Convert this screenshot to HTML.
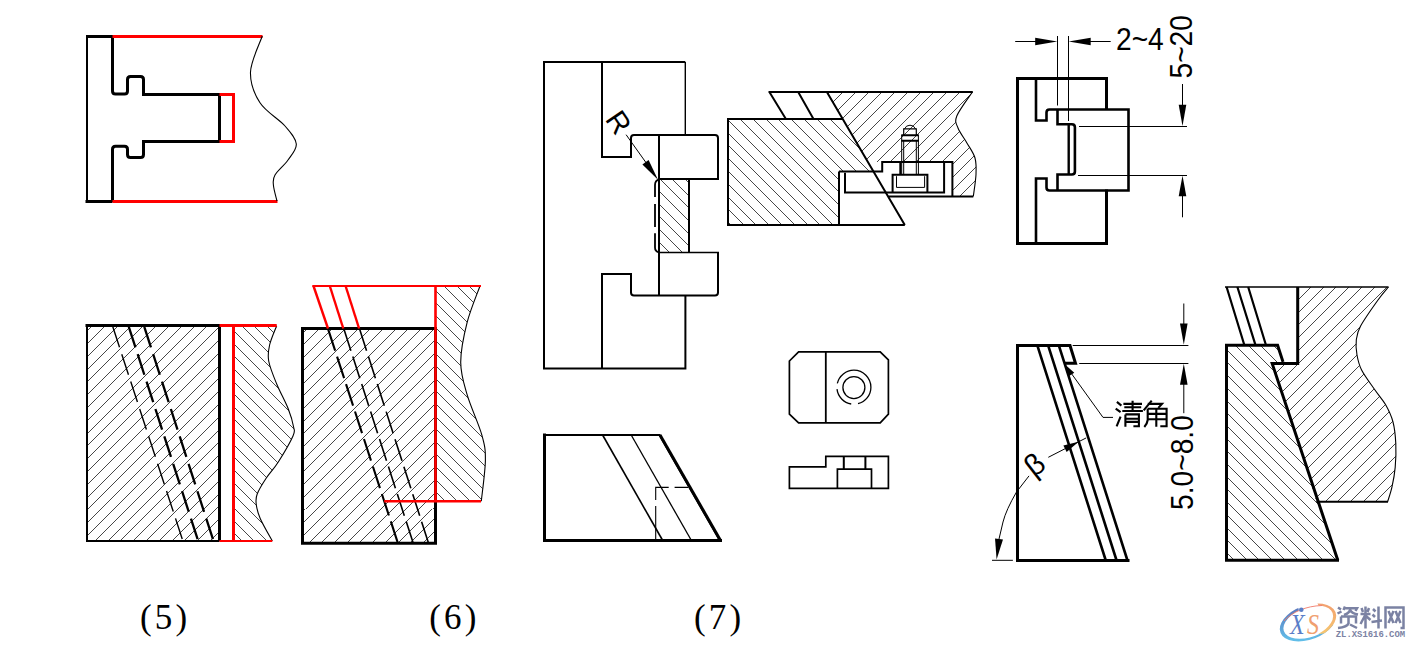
<!DOCTYPE html>
<html><head><meta charset="utf-8"><style>
html,body{margin:0;padding:0;background:#fff;width:1413px;height:647px;overflow:hidden}
svg{display:block}
</style></head><body>
<svg width="1413" height="647" viewBox="0 0 1413 647">
<rect width="1413" height="647" fill="#fff"/>
<path d="M86,36.5 H112.5 M85.5,201.5 H112.5" stroke="#000" stroke-width="3" fill="none" />
<path d="M87,35 V203" stroke="#000" stroke-width="2" fill="none" />
<path d="M112.5,35 V91 Q112.5,94 115.5,94 H124.5 Q127.5,94 127.5,91 V79.5 Q127.5,76.5 130.5,76.5 H140.5 Q143.5,76.5 143.5,79.5 V94.5 H219.5 V141.5 H143.5 V154.5 Q143.5,157.5 140.5,157.5 H130.5 Q127.5,157.5 127.5,154.5 V149.3 Q127.5,146.3 124.5,146.3 H115.5 Q112.5,146.3 112.5,149.3 V202" stroke="#000" stroke-width="3" fill="none" />
<path d="M112.5,36.5 H262.5 M112.5,201.5 H277.5 M219.5,94.5 H233.5 V141.5 H219.5" stroke="#ff0000" stroke-width="3" fill="none" />
<path d="M262.3,36 C260.33,42 250.88,60.87 250.5,72 C250.12,83.13 254.25,93.8 260,102.8 C265.75,111.8 278.95,119.13 285,126 C291.05,132.87 295.8,138.33 296.3,144 C296.8,149.67 291.55,154.83 288,160 C284.45,165.17 277.43,170.83 275,175 C272.57,179.17 273.07,180.63 273.4,185 C273.73,189.37 276.4,198.5 277,201.2" stroke="#000" stroke-width="1.1" fill="none" />
<clipPath id="c1"><path d="M87,325.5 L219.5,325.5 L219.5,541 L87,541 Z"/></clipPath>
<path clip-path="url(#c1)" d="M-153.4,546L73.6,319M-140.6,546L86.4,319M-127.8,546L99.2,319M-115,546L112,319M-102.2,546L124.8,319M-89.4,546L137.6,319M-76.6,546L150.4,319M-63.8,546L163.2,319M-51,546L176,319M-38.2,546L188.8,319M-25.4,546L201.6,319M-12.6,546L214.4,319M0.2,546L227.2,319M13,546L240,319M25.8,546L252.8,319M38.6,546L265.6,319M51.4,546L278.4,319M64.2,546L291.2,319M77,546L304,319M89.8,546L316.8,319M102.6,546L329.6,319M115.4,546L342.4,319M128.2,546L355.2,319M141,546L368,319M153.8,546L380.8,319M166.6,546L393.6,319M179.4,546L406.4,319M192.2,546L419.2,319M205,546L432,319M217.8,546L444.8,319" stroke="#000" stroke-width="0.72" fill="none" shape-rendering="crispEdges"/>
<path d="M112.8,326.8 L182.9,541" stroke="#000" stroke-width="1.4" fill="none" stroke-dasharray="21.6 7.2"/>
<path d="M128.8,326.8 L198.2,541" stroke="#000" stroke-width="2.3" fill="none" stroke-dasharray="21.6 7.2"/>
<path d="M144.3,326.8 L213.5,541" stroke="#000" stroke-width="2.3" fill="none" stroke-dasharray="21.6 7.2"/>
<path d="M85.5,325.5 H221 M219.5,325.5 V541" stroke="#000" stroke-width="3" fill="none" />
<path d="M87,324 V542" stroke="#000" stroke-width="2" fill="none" />
<path d="M86,541 H219.5" stroke="#000" stroke-width="2" fill="none" />
<clipPath id="c2"><path d="M233.5,325.5 L276.7,325.5 C275.52,328.92 270.93,339.12 269.6,345 C268.27,350.88 267.52,354.5 268.7,361 C269.88,367.5 273.43,376 276.7,384 C279.97,392 285.48,401.83 288.3,409 C291.12,416.17 292.82,422.5 293.6,427 C294.38,431.5 295.55,430.17 293,436 C290.45,441.83 282.75,455 278.3,462 C273.85,469 269.82,472.67 266.3,478 C262.78,483.33 258.88,489.67 257.2,494 C255.52,498.33 255.7,499.92 256.2,504 C256.7,508.08 257.52,512.33 260.2,518.5 C262.88,524.67 270.28,537.25 272.3,541 L233.5,541 Z"/></clipPath>
<path clip-path="url(#c2)" d="M-5.6,319L221.4,546M7.05,319L234.05,546M19.7,319L246.7,546M32.35,319L259.35,546M45,319L272,546M57.65,319L284.65,546M70.3,319L297.3,546M82.95,319L309.95,546M95.6,319L322.6,546M108.25,319L335.25,546M120.9,319L347.9,546M133.55,319L360.55,546M146.2,319L373.2,546M158.85,319L385.85,546M171.5,319L398.5,546M184.15,319L411.15,546M196.8,319L423.8,546M209.45,319L436.45,546M222.1,319L449.1,546M234.75,319L461.75,546M247.4,319L474.4,546M260.05,319L487.05,546M272.7,319L499.7,546M285.35,319L512.35,546M298,319L525,546" stroke="#000" stroke-width="0.72" fill="none" shape-rendering="crispEdges"/>
<path d="M276.7,325.7 C275.52,328.92 270.93,339.12 269.6,345 C268.27,350.88 267.52,354.5 268.7,361 C269.88,367.5 273.43,376 276.7,384 C279.97,392 285.48,401.83 288.3,409 C291.12,416.17 292.82,422.5 293.6,427 C294.38,431.5 295.55,430.17 293,436 C290.45,441.83 282.75,455 278.3,462 C273.85,469 269.82,472.67 266.3,478 C262.78,483.33 258.88,489.67 257.2,494 C255.52,498.33 255.7,499.92 256.2,504 C256.7,508.08 257.52,512.33 260.2,518.5 C262.88,524.67 270.28,537.25 272.3,541" stroke="#000" stroke-width="1.1" fill="none" />
<path d="M219.5,325.5 H276.7 M233.5,325.5 V541" stroke="#ff0000" stroke-width="3" fill="none" />
<path d="M219.5,541 H272.3" stroke="#ff0000" stroke-width="2" fill="none" />
<clipPath id="c3"><path d="M302.5,328.5 L435.5,328.5 L435.5,543.2 L302.5,543.2 Z"/></clipPath>
<path clip-path="url(#c3)" d="M61.3,549L291.3,319M74,549L304,319M86.7,549L316.7,319M99.4,549L329.4,319M112.1,549L342.1,319M124.8,549L354.8,319M137.5,549L367.5,319M150.2,549L380.2,319M162.9,549L392.9,319M175.6,549L405.6,319M188.3,549L418.3,319M201,549L431,319M213.7,549L443.7,319M226.4,549L456.4,319M239.1,549L469.1,319M251.8,549L481.8,319M264.5,549L494.5,319M277.2,549L507.2,319M289.9,549L519.9,319M302.6,549L532.6,319M315.3,549L545.3,319M328,549L558,319M340.7,549L570.7,319M353.4,549L583.4,319M366.1,549L596.1,319M378.8,549L608.8,319M391.5,549L621.5,319M404.2,549L634.2,319M416.9,549L646.9,319M429.6,549L659.6,319" stroke="#000" stroke-width="0.72" fill="none" shape-rendering="crispEdges"/>
<path d="M328.1,329.1 L397.8,542.8" stroke="#000" stroke-width="2.1" fill="none" stroke-dasharray="22.7 6.2"/>
<path d="M343.9,329.1 L413.1,542.8" stroke="#000" stroke-width="1.6" fill="none" stroke-dasharray="22.7 6.2"/>
<path d="M359.6,329.1 L428.4,542.8" stroke="#000" stroke-width="1.6" fill="none" stroke-dasharray="22.7 6.2"/>
<path d="M301,328.5 H437 M302.5,327 V544.7 M301,543.2 H437 M435.5,327 V544.7" stroke="#000" stroke-width="3" fill="none" />
<clipPath id="c4"><path d="M435.5,286 L480,286 C477.87,292.03 470.42,309.5 467.2,322.2 C463.98,334.9 460.7,350.08 460.7,362.2 C460.7,374.32 463.68,382.8 467.2,394.9 C470.72,407 478.77,423.95 481.8,434.8 C484.83,445.65 485.48,448.93 485.4,460 C485.32,471.07 481.98,494.33 481.3,501.2 L435.5,501.2 Z"/></clipPath>
<path clip-path="url(#c4)" d="M197.7,279L424.7,506M210.3,279L437.3,506M222.9,279L449.9,506M235.5,279L462.5,506M248.1,279L475.1,506M260.7,279L487.7,506M273.3,279L500.3,506M285.9,279L512.9,506M298.5,279L525.5,506M311.1,279L538.1,506M323.7,279L550.7,506M336.3,279L563.3,506M348.9,279L575.9,506M361.5,279L588.5,506M374.1,279L601.1,506M386.7,279L613.7,506M399.3,279L626.3,506M411.9,279L638.9,506M424.5,279L651.5,506M437.1,279L664.1,506M449.7,279L676.7,506M462.3,279L689.3,506M474.9,279L701.9,506M487.5,279L714.5,506" stroke="#000" stroke-width="0.72" fill="none" shape-rendering="crispEdges"/>
<path d="M480,286 C477.87,292.03 470.42,309.5 467.2,322.2 C463.98,334.9 460.7,350.08 460.7,362.2 C460.7,374.32 463.68,382.8 467.2,394.9 C470.72,407 478.77,423.95 481.8,434.8 C484.83,445.65 485.48,448.93 485.4,460 C485.32,471.07 481.98,494.33 481.3,501.2" stroke="#000" stroke-width="1.1" fill="none" />
<path d="M312.3,286 H481" stroke="#ff0000" stroke-width="2.2" fill="none" />
<path d="M435.5,286 V501.2 M384.2,501.2 H481" stroke="#ff0000" stroke-width="2.6" fill="none" />
<path d="M313.5,286 L328,328.5" stroke="#ff0000" stroke-width="2.4" fill="none" />
<path d="M329.8,286 L343.3,328.5" stroke="#ff0000" stroke-width="2.4" fill="none" />
<path d="M345.6,286 L359.1,328.5" stroke="#ff0000" stroke-width="2.4" fill="none" />
<clipPath id="c5"><path d="M659,179 L689,179 L689,252.3 L659,252.3 Z"/></clipPath>
<path clip-path="url(#c5)" d="M566.3,174L649.3,257M578.9,174L661.9,257M591.5,174L674.5,257M604.1,174L687.1,257M616.7,174L699.7,257M629.3,174L712.3,257M641.9,174L724.9,257M654.5,174L737.5,257M667.1,174L750.1,257M679.7,174L762.7,257" stroke="#000" stroke-width="0.72" fill="none" shape-rendering="crispEdges"/>
<path d="M543,62 H685.3" stroke="#000" stroke-width="2" fill="none" />
<path d="M685.3,62 V135" stroke="#000" stroke-width="1.4" fill="none" />
<path d="M544,61 V369.5 M543,368.6 H686.4 M685.4,368.6 V295.6" stroke="#000" stroke-width="2" fill="none" />
<path d="M602,62 V157 H631 V138 Q631,135 634,135 H715 Q718,135 718,138 V179 H659" stroke="#000" stroke-width="2" fill="none" />
<path d="M659,135 V295.6 M689,179 V252.3 M718,252.5 V292.6 Q718,295.6 715,295.6 H634 Q631,295.6 631,292.6 V274 H602 V368.6" stroke="#000" stroke-width="2" fill="none" />
<path d="M659,252.5 H719" stroke="#000" stroke-width="1.5" fill="none" />
<path d="M659,179.3 Q655,180.5 655,185 V197 M655,204 V227 M655,233.3 V247.5 Q655,251.5 659,252.3" stroke="#000" stroke-width="1.8" fill="none" />
<path d="M626.1,134.7 L647,164" stroke="#000" stroke-width="1.0" fill="none" />
<path d="M658,179.7 L642.41,164.52 L648.59,160.08 Z" fill="#000"/>
<text x="0" y="0" transform="translate(604.5,119.2) rotate(56)" font-family="'Liberation Sans', sans-serif" font-size="29" fill="#000">R</text>
<clipPath id="c6"><path d="M728,119 L842.8,118.8 L873.4,171.4 L839,171.4 L839,225 L728,225 Z"/></clipPath>
<path clip-path="url(#c6)" d="M589.2,109L711.2,231M602,109L724,231M614.8,109L736.8,231M627.6,109L749.6,231M640.4,109L762.4,231M653.2,109L775.2,231M666,109L788,231M678.8,109L800.8,231M691.6,109L813.6,231M704.4,109L826.4,231M717.2,109L839.2,231M730,109L852,231M742.8,109L864.8,231M755.6,109L877.6,231M768.4,109L890.4,231M781.2,109L903.2,231M794,109L916,231M806.8,109L928.8,231M819.6,109L941.6,231M832.4,109L954.4,231M845.2,109L967.2,231M858,109L980,231M870.8,109L992.8,231" stroke="#000" stroke-width="0.72" fill="none" shape-rendering="crispEdges"/>
<clipPath id="c7"><path d="M826.9,92 L972.4,92 C969.8,96 959.2,110 956.8,116 C954.4,122 956.27,123.43 958,128 C959.73,132.57 964.37,138.4 967.2,143.4 C970.03,148.4 973.53,152.82 975,158 C976.47,163.18 976.28,168.1 976,174.5 C975.72,180.9 973.75,192.75 973.3,196.4 L952.4,196.4 L952.4,162 L867.9,162 Z"/></clipPath>
<path clip-path="url(#c7)" d="M695,201L812,84M708,201L825,84M721,201L838,84M734,201L851,84M747,201L864,84M760,201L877,84M773,201L890,84M786,201L903,84M799,201L916,84M812,201L929,84M825,201L942,84M838,201L955,84M851,201L968,84M864,201L981,84M877,201L994,84M890,201L1007,84M903,201L1020,84M916,201L1033,84M929,201L1046,84M942,201L1059,84M955,201L1072,84M968,201L1085,84" stroke="#000" stroke-width="0.72" fill="none" shape-rendering="crispEdges"/>
<path d="M972.4,92 C969.8,96 959.2,110 956.8,116 C954.4,122 956.27,123.43 958,128 C959.73,132.57 964.37,138.4 967.2,143.4 C970.03,148.4 973.53,152.82 975,158 C976.47,163.18 976.28,168.1 976,174.5 C975.72,180.9 973.75,192.75 973.3,196.4" stroke="#000" stroke-width="1.1" fill="none" />
<path d="M768.5,92 H972.8 M769.4,92 L785.9,119 M798.2,92 L813.5,119 M826.9,92 L904.8,225" stroke="#000" stroke-width="2" fill="none" />
<path d="M727,119 H842.9 M728,118 V226 M727,225 H904.8 M839,171.4 V225" stroke="#000" stroke-width="2" fill="none" />
<path d="M839,171.4 H882.2 V162 H952.4 V196.4 M888.4,196.4 H973.3" stroke="#000" stroke-width="2" fill="none" />
<path d="M845,172.7 V192.6 H944.1 V162" stroke="#000" stroke-width="2" fill="none" />
<path d="M892.6,192.2 V174.8 H927.4 V192.2" stroke="#000" stroke-width="2" fill="none" />
<path d="M896.5,176.2 V187.4 H924.6 V176.2" stroke="#000" stroke-width="1.0" fill="none" />
<path d="M901.7,135.2 V174.8 M918.4,135.2 V174.8" stroke="#000" stroke-width="1.0" fill="none" />
<path d="M903.7,140.7 V174.8 M916.3,140.7 V174.8" stroke="#000" stroke-width="1.0" fill="none" />
<path d="M900.3,162 V174.8" stroke="#000" stroke-width="2" fill="none" />
<path d="M901.3,135.2 H918.8 M901.3,140.7 H918.8" stroke="#000" stroke-width="2" fill="none" />
<path d="M903.7,135.2 V128.9 H916.3 V135.2" stroke="#000" stroke-width="1.2" fill="none" />
<path d="M904.5,128.9 Q906,125.2 910,125.2 Q914,125.2 915.5,128.9" stroke="#000" stroke-width="1.0" fill="none" />
<path d="M798.6,351.9 L880.2,351.9 L888.4,359.8 L888.4,414.2 L880.2,422.9 L798.6,422.9 L789.4,414.2 L789.4,361 Z" stroke="#000" stroke-width="1.7" fill="none" />
<path d="M825.8,351.9 V422.9" stroke="#000" stroke-width="1.8" fill="none" />
<circle cx="853.9" cy="387.2" r="17" stroke="#000" stroke-width="1.3" fill="none" stroke-dasharray="22.3 7 21.7 6 49.8"/>
<circle cx="853.9" cy="387.6" r="11" stroke="#000" stroke-width="1.3" fill="none"/>
<path d="M789.4,466.9 H825.8 V456.3 H888.4 V488.4 H789.4 Z" stroke="#000" stroke-width="1.7" fill="none" />
<path d="M837.4,488.4 V469.1 H871.5 V488.4" stroke="#000" stroke-width="1.7" fill="none" />
<path d="M843.8,456.3 V469.1 M865.4,456.3 V469.1" stroke="#000" stroke-width="2.0" fill="none" />
<path d="M543,435 H659.6 L720,540.5" stroke="#000" stroke-width="2.2" fill="none" />
<path d="M660,435 L720.5,540.5" stroke="#000" stroke-width="3" fill="none" />
<path d="M543,540.5 H722" stroke="#000" stroke-width="3" fill="none" />
<path d="M544.5,433.5 V542" stroke="#000" stroke-width="3" fill="none" />
<path d="M602.6,435 L662.7,540.5" stroke="#000" stroke-width="1.6" fill="none" />
<path d="M631.2,435 L691.4,540.5" stroke="#000" stroke-width="1.3" fill="none" />
<path d="M655.7,500 V487.4 H668.7 M674.6,487.4 H688 M655.7,506 V540" stroke="#000" stroke-width="1.1" fill="none" />
<path d="M1106.5,110 V78.5 H1017.5 V243.5 H1106.5 V189.5" stroke="#000" stroke-width="3" fill="none" />
<path d="M1036,78.5 V120.5 H1046.5 V112.5 Q1046.5,109.5 1049.5,109.5 H1128.5 V190.5 H1049.5 Q1046.5,190.5 1046.5,187.5 V178.5 H1036 V243.5" stroke="#000" stroke-width="2.6" fill="none" />
<path d="M1057.5,109.5 V124.2 H1071.9 Q1074.9,124.2 1074.9,127.2 V171.5 Q1074.9,174.5 1071.9,174.5 H1057.5 V190.5" stroke="#000" stroke-width="2.6" fill="none" />
<path d="M1068.7,124.2 V174.5" stroke="#000" stroke-width="2.4" fill="none" />
<path d="M1057.5,36 V105.5 M1068.5,36 V121 M1015.2,41.5 H1040 M1086,41.5 H1110.7" stroke="#000" stroke-width="1.0" fill="none" />
<path d="M1057.3,41.5 L1035.2,45.3 L1035.2,37.7 Z" fill="#000"/>
<path d="M1068.6,41.5 L1090.7,37.7 L1090.7,45.3 Z" fill="#000"/>
<text transform="translate(1116,50) scale(0.88,1)" font-family="'Liberation Sans', sans-serif" font-size="32" fill="#000">2~4</text>
<path d="M1079,126.5 H1187 M1078,175.5 H1187 M1182.5,84 V110 M1182.5,190 V217.3" stroke="#000" stroke-width="1.0" fill="none" />
<path d="M1182.5,125.9 L1178.7,104.8 L1186.3,104.8 Z" fill="#000"/>
<path d="M1182.5,175.5 L1186.3,196.3 L1178.7,196.3 Z" fill="#000"/>
<text transform="translate(1192,78.5) rotate(-90) scale(0.88,1)" font-family="'Liberation Sans', sans-serif" font-size="32" fill="#000">5~20</text>
<path d="M1017.5,344 V562 M1016,560.5 H1129.5 M1016,345.5 H1070 L1075.5,363.2 H1064.3" stroke="#000" stroke-width="3" fill="none" />
<path d="M1037.4,345.6 L1105.8,560.5 M1048.2,345.6 L1116.6,560.5 M1058.9,345.6 L1127.5,560.5" stroke="#000" stroke-width="2.6" fill="none" />
<path d="M1072.7,345.5 H1188.4 M1079.2,363.5 H1188.4" stroke="#000" stroke-width="1.0" fill="none" />
<path d="M1183.8,303.5 V330 M1183.8,384 V413.2" stroke="#000" stroke-width="1.0" fill="none" />
<path d="M1183.8,344.7 L1180,323.6 L1187.6,323.6 Z" fill="#000"/>
<path d="M1183.8,363.7 L1187.6,384.7 L1180,384.7 Z" fill="#000"/>
<text transform="translate(1193,509.9) rotate(-90) scale(0.88,1)" font-family="'Liberation Sans', sans-serif" font-size="32" fill="#000">5.0~8.0</text>
<path d="M1113,417.4 H1103 L1066,366" stroke="#000" stroke-width="1.0" fill="none" />
<path d="M1064.5,364 L1074.25,372.67 L1068.75,376.33 Z" fill="#000"/>
<path d="M1048.3,457.3 L1086.2,437.9" stroke="#000" stroke-width="1.0" fill="none" />
<path d="M1078.6,441.8 L1066.65,452 L1063.35,445.6 Z" fill="#000"/>
<path d="M992,560.3 H1012.9" stroke="#000" stroke-width="1.0" fill="none" />
<path d="M1029,475.9 L1016.5,492 Q1006,510 1003,522 L999,539" stroke="#000" stroke-width="1.0" fill="none" />
<path d="M996.6,559.6 L995.03,538.54 L1002.97,539.46 Z" fill="#000"/>
<text transform="translate(1033.9,478) rotate(-38)" font-family="'Liberation Sans', sans-serif" font-size="30" fill="#000">β</text>
<path d="M1116.9,401.9 L1121.4,405.6 M1115.7,408.7 L1120.6,412.2 M1116.6,426.4 L1120.6,416.7" stroke="#000" stroke-width="2.1" fill="none" />
<path d="M1123.4,403.9 H1142 M1124.3,407.3 H1141.2 M1122.3,411 H1142.9 M1132.6,400.7 V411" stroke="#000" stroke-width="2.1" fill="none" />
<path d="M1125.4,414.4 V426.7 M1125.4,414.4 H1138.9 V426.2 H1133.4 M1125.4,418.7 H1138.9 M1125.4,421.9 H1138.9" stroke="#000" stroke-width="2.1" fill="none" />
<path d="M1151.7,400.7 L1143.7,410.4 M1147.7,403.9 H1162 L1158.3,407.9" stroke="#000" stroke-width="2.1" fill="none" />
<path d="M1147.7,408.7 V420 Q1147.2,424 1144.3,427 M1147.7,408.7 H1166.6 V426.2 H1160.3 M1147.7,413.9 H1166.6 M1147.7,419.3 H1166.6 M1156.3,408.7 V426.7" stroke="#000" stroke-width="2.1" fill="none" />
<clipPath id="c8"><path d="M1226.5,345.2 L1277.6,345.2 L1283,361.9 L1272.9,363.6 L1338,560.3 L1226.5,560.3 Z"/></clipPath>
<path clip-path="url(#c8)" d="M987.7,339L1212.7,564M1000.4,339L1225.4,564M1013.1,339L1238.1,564M1025.8,339L1250.8,564M1038.5,339L1263.5,564M1051.2,339L1276.2,564M1063.9,339L1288.9,564M1076.6,339L1301.6,564M1089.3,339L1314.3,564M1102,339L1327,564M1114.7,339L1339.7,564M1127.4,339L1352.4,564M1140.1,339L1365.1,564M1152.8,339L1377.8,564M1165.5,339L1390.5,564M1178.2,339L1403.2,564M1190.9,339L1415.9,564M1203.6,339L1428.6,564M1216.3,339L1441.3,564M1229,339L1454,564M1241.7,339L1466.7,564M1254.4,339L1479.4,564M1267.1,339L1492.1,564M1279.8,339L1504.8,564M1292.5,339L1517.5,564M1305.2,339L1530.2,564M1317.9,339L1542.9,564M1330.6,339L1555.6,564" stroke="#000" stroke-width="0.72" fill="none" shape-rendering="crispEdges"/>
<clipPath id="c9"><path d="M1297.7,287 L1388.5,287 C1386.75,289.17 1382.65,293.5 1378,300 C1373.35,306.5 1364.22,319.33 1360.6,326 C1356.98,332.67 1356.9,335.17 1356.3,340 C1355.7,344.83 1356.12,350 1357,355 C1357.88,360 1358.67,364.25 1361.6,370 C1364.53,375.75 1370.62,383.73 1374.6,389.5 C1378.58,395.27 1382.43,399.18 1385.5,404.6 C1388.57,410.02 1391.28,415.5 1393,422 C1394.72,428.5 1395.43,436.03 1395.8,443.6 C1396.17,451.17 1395.83,460.18 1395.2,467.4 C1394.57,474.62 1393.27,481.17 1392,486.9 C1390.73,492.63 1388.33,499.32 1387.6,501.8 L1316.4,501.8 L1272.9,363.6 L1297.7,363.6 Z"/></clipPath>
<path clip-path="url(#c9)" d="M1028.5,506L1255.5,279M1041.2,506L1268.2,279M1053.9,506L1280.9,279M1066.6,506L1293.6,279M1079.3,506L1306.3,279M1092,506L1319,279M1104.7,506L1331.7,279M1117.4,506L1344.4,279M1130.1,506L1357.1,279M1142.8,506L1369.8,279M1155.5,506L1382.5,279M1168.2,506L1395.2,279M1180.9,506L1407.9,279M1193.6,506L1420.6,279M1206.3,506L1433.3,279M1219,506L1446,279M1231.7,506L1458.7,279M1244.4,506L1471.4,279M1257.1,506L1484.1,279M1269.8,506L1496.8,279M1282.5,506L1509.5,279M1295.2,506L1522.2,279M1307.9,506L1534.9,279M1320.6,506L1547.6,279M1333.3,506L1560.3,279M1346,506L1573,279M1358.7,506L1585.7,279M1371.4,506L1598.4,279M1384.1,506L1611.1,279M1396.8,506L1623.8,279" stroke="#000" stroke-width="0.72" fill="none" shape-rendering="crispEdges"/>
<path d="M1388.5,287 C1386.75,289.17 1382.65,293.5 1378,300 C1373.35,306.5 1364.22,319.33 1360.6,326 C1356.98,332.67 1356.9,335.17 1356.3,340 C1355.7,344.83 1356.12,350 1357,355 C1357.88,360 1358.67,364.25 1361.6,370 C1364.53,375.75 1370.62,383.73 1374.6,389.5 C1378.58,395.27 1382.43,399.18 1385.5,404.6 C1388.57,410.02 1391.28,415.5 1393,422 C1394.72,428.5 1395.43,436.03 1395.8,443.6 C1396.17,451.17 1395.83,460.18 1395.2,467.4 C1394.57,474.62 1393.27,481.17 1392,486.9 C1390.73,492.63 1388.33,499.32 1387.6,501.8" stroke="#000" stroke-width="1.1" fill="none" />
<path d="M1225,287 H1388.5" stroke="#000" stroke-width="1.6" fill="none" />
<path d="M1226.6,287 L1244.4,345.2 M1237.4,287 L1255.5,345.2 M1248.2,287 L1266,345.2" stroke="#000" stroke-width="2.2" fill="none" />
<path d="M1297.7,287 V363.6 H1272.2 L1337.8,560.3" stroke="#000" stroke-width="3" fill="none" />
<path d="M1316.4,501.8 H1388" stroke="#000" stroke-width="2" fill="none" />
<path d="M1226.5,343.7 V561.8 M1225,560.3 H1339 M1225,345.2 H1277.6 L1283,361.9" stroke="#000" stroke-width="3" fill="none" />
<text x="140" y="628.8" font-family="'Liberation Serif', serif" font-size="35" letter-spacing="3.2" fill="#000">(5)</text>
<text x="429.2" y="628.8" font-family="'Liberation Serif', serif" font-size="35" letter-spacing="3.2" fill="#000">(6)</text>
<text x="693.9" y="628.8" font-family="'Liberation Serif', serif" font-size="35" letter-spacing="3.2" fill="#000">(7)</text>
<defs><linearGradient id="gb" x1="0" y1="0" x2="0" y2="1"><stop offset="0" stop-color="#5a6fb8"/><stop offset="1" stop-color="#62c0ea"/></linearGradient><linearGradient id="go" x1="0" y1="0" x2="0" y2="1"><stop offset="0" stop-color="#f2a070"/><stop offset="1" stop-color="#f8d070"/></linearGradient></defs>
<clipPath id="wmL"><path d="M1270,600 H1296 L1300,614 L1338,626 V645 H1270 Z"/></clipPath>
<clipPath id="wmR"><path d="M1316,600 H1340 V632 L1318,634 L1324,618 Z"/></clipPath>
<path clip-path="url(#wmL)" fill-rule="evenodd" fill="url(#gb)" d="M1281.5,622.5 a26.5,15.5 -20 1,0 53,0 a26.5,15.5 -20 1,0 -53,0 Z M1285.5,621.8 a24.5,13.2 -20 1,0 49,0 a24.5,13.2 -20 1,0 -49,0 Z"/>
<path clip-path="url(#wmR)" fill-rule="evenodd" fill="url(#go)" d="M1281.5,622.5 a26.5,15.5 -20 1,0 53,0 a26.5,15.5 -20 1,0 -53,0 Z M1281,622.8 a25,13.5 -20 1,0 50,0 a25,13.5 -20 1,0 -50,0 Z"/>
<path d="M1284,621 C1292,612 1306,606 1322,605.5" stroke="#f07a6a" stroke-width="0.9" fill="none"/>
<circle cx="1301.3" cy="609.7" r="2.3" fill="#5b7fc7"/>
<text transform="translate(1290,633.7) scale(0.8,1)" font-family="'Liberation Serif', serif" font-style="italic" font-size="30" fill="#5b7ec8">X</text>
<text transform="translate(1307,633.7) scale(0.8,1)" font-family="'Liberation Serif', serif" font-style="italic" font-size="30" fill="#f0a070">S</text>
<path d="M1338,607.5 L1341,609.5 M1337.5,613.5 L1341.5,611.5 M1345,606.5 L1343.5,610 M1344.5,608.3 H1357 L1355.5,611 M1350.5,608.5 Q1350,613 1344,615 M1350.5,610.5 Q1352,613.5 1358,614.5" stroke="#7b82a3" stroke-width="2.5" fill="none" />
<path d="M1341,616.5 H1356 V623.5 M1341,616.5 V623.5 M1348.5,616.5 V623.5 Q1347,627 1338,628 M1350,624.5 L1357,628" stroke="#7b82a3" stroke-width="2.5" fill="none" />
<path d="M1361.5,608 L1363,612 M1369,608 L1367.5,612 M1360.5,614 H1370.5 M1365.5,606.5 V628.5 M1365,615.5 L1360.5,624 M1366,616 L1370.5,620" stroke="#7b82a3" stroke-width="2.5" fill="none" />
<path d="M1373,609 L1375.5,611.5 M1372.5,614.5 L1375,617 M1371.5,622 L1382,620.5 M1378.5,606.5 V628.5" stroke="#7b82a3" stroke-width="2.5" fill="none" />
<path d="M1385.5,628.5 V607.5 H1403.5 V628 H1400.5 M1388.5,611 L1393.5,623 M1393.5,611 L1388.5,623 M1395.5,611 L1400.5,623 M1400.5,611 L1395.5,623" stroke="#7b82a3" stroke-width="2.5" fill="none" />
<text x="1335.8" y="636.8" font-family="'Liberation Mono', monospace" font-size="8.9" font-weight="bold" fill="#7b82a3">ZL.XS1616.COM</text>
</svg>
</body></html>
